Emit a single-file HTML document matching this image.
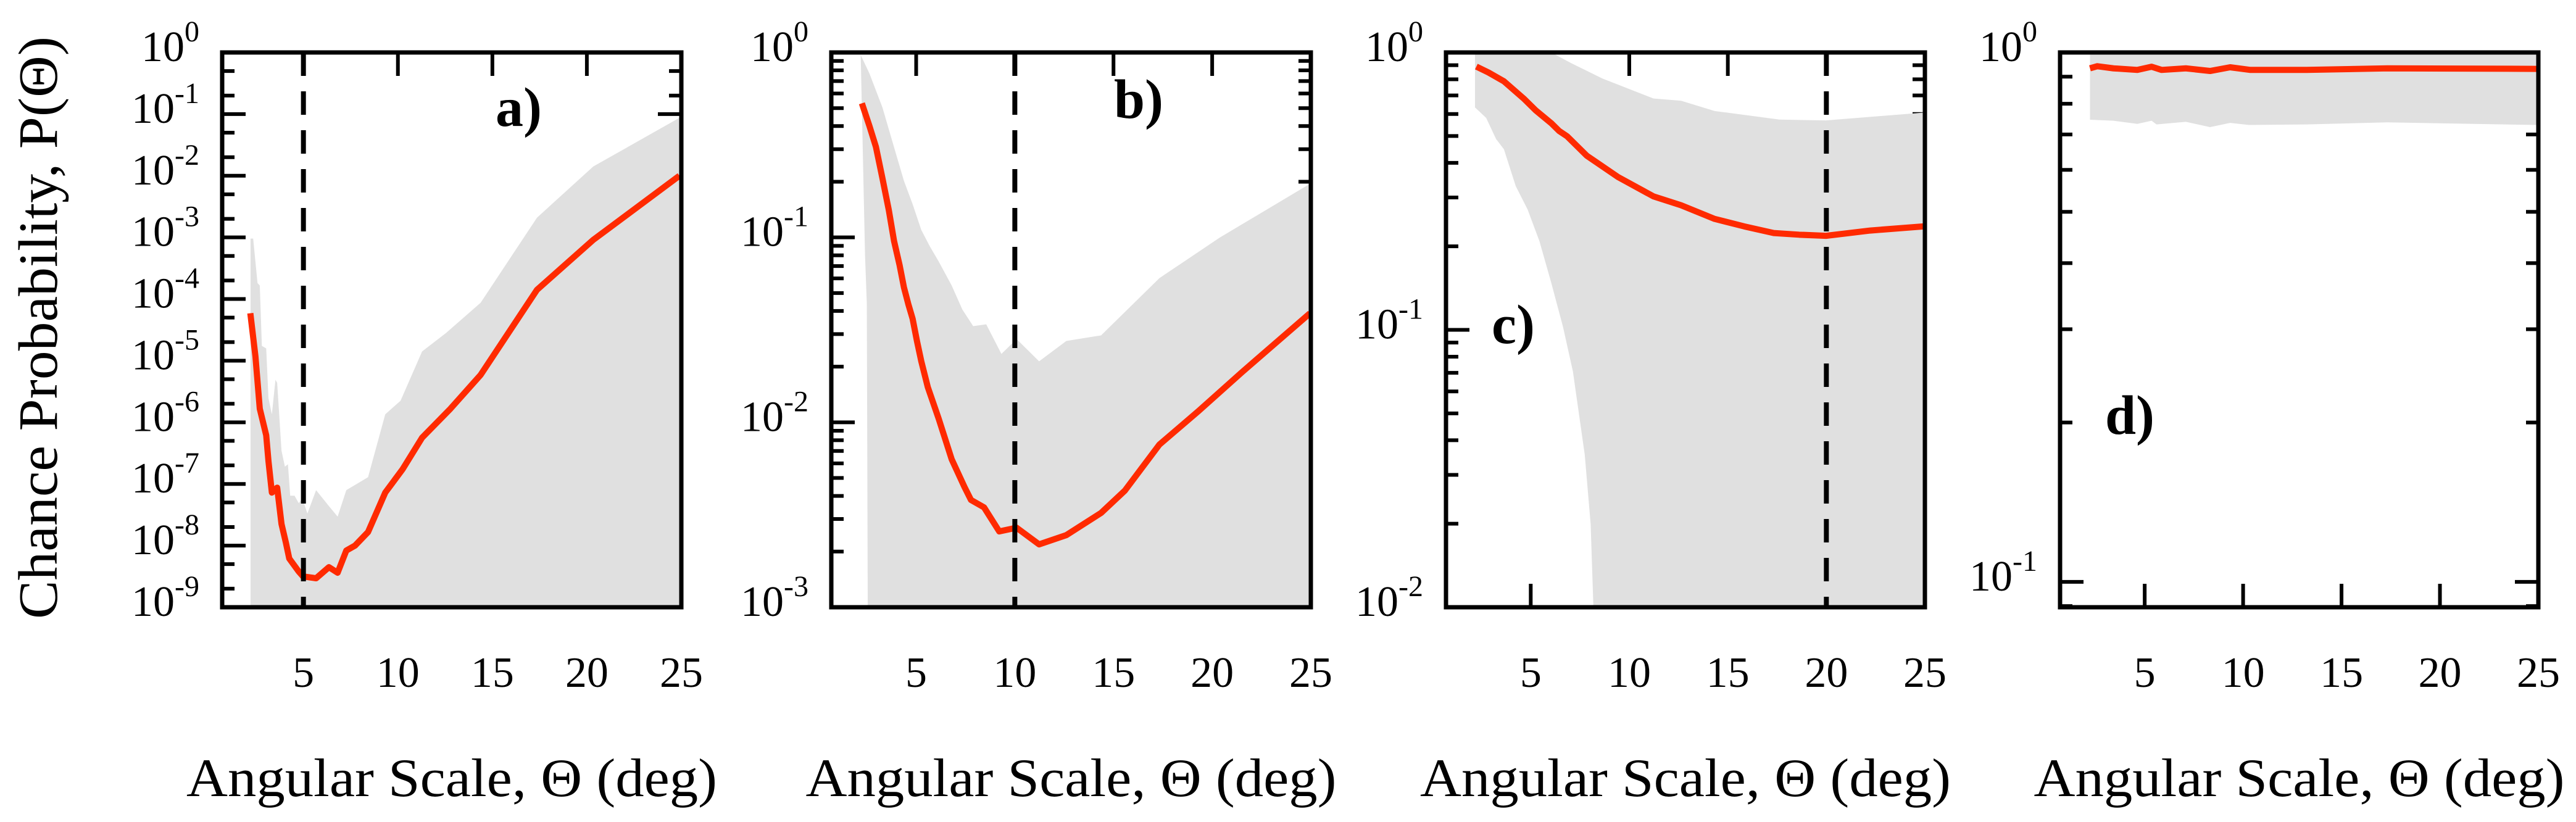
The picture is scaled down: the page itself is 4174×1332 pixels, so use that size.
<!DOCTYPE html>
<html><head><meta charset="utf-8"><style>
html,body{margin:0;padding:0;background:#fff;}
svg{display:block;font-family:"Liberation Serif","DejaVu Serif",serif;}
</style></head><body>
<svg id="fig" width="4174" height="1332" viewBox="0 0 4174 1332" xmlns="http://www.w3.org/2000/svg">
<rect width="4174" height="1332" fill="#fff"/>
<text x="0" y="0" transform="translate(92,531) rotate(-90)" text-anchor="middle" font-size="90" textLength="944" lengthAdjust="spacingAndGlyphs">Chance Probability, P(Θ)</text>
</svg>
<script>
// ---- data (theta in deg, log10 probability) ----
const xTickValues=[5,10,15,20,25];
const xTickLabels=["5","10","15","20","25"];

const aLineTheta=[2.19,2.46,2.69,3.03,3.15,3.33,3.61,3.84,4.07,4.25,4.75,4.98,5.67,6.35,6.81,7.27,7.73,8.42,9.33,10.25,11.28,12.78,14.38,17.36,20.34,24.9];
const aLineLogP=[-4.23,-4.93,-5.78,-6.21,-6.63,-7.14,-7.06,-7.65,-7.95,-8.21,-8.42,-8.5,-8.53,-8.35,-8.44,-8.08,-8.0,-7.78,-7.14,-6.76,-6.25,-5.78,-5.23,-3.85,-3.04,-2.0];
const aUpperTheta=[2.2,2.34,2.57,2.69,2.8,3.03,3.15,3.33,3.52,3.61,3.84,4.02,4.18,4.3,4.53,4.75,4.94,5.21,5.67,6.35,6.81,7.27,8.42,9.33,10.14,11.28,12.55,14.38,17.36,20.34,24.9];
const aUpperLogP=[-3.02,-3.02,-3.74,-3.78,-4.76,-4.8,-5.61,-5.87,-5.31,-5.36,-6.46,-6.72,-6.68,-7.19,-7.19,-7.31,-7.23,-7.48,-7.1,-7.36,-7.53,-7.1,-6.89,-5.87,-5.65,-4.85,-4.55,-4.06,-2.68,-1.85,-1.06];
const aLowerTheta=[2.2,24.9];
const aLowerLogP=[-9.6,-9.6];

const bLineTheta=[2.25,2.63,2.96,3.29,3.61,3.88,4.16,4.38,4.6,4.82,5.04,5.26,5.59,6.14,6.8,7.45,7.78,8.44,9.21,10.09,11.23,12.61,14.37,15.57,17.33,19.3,21.5,24.96];
const bLineLogP=[-0.275,-0.397,-0.51,-0.68,-0.85,-1.02,-1.15,-1.27,-1.36,-1.44,-1.56,-1.67,-1.81,-1.98,-2.2,-2.35,-2.42,-2.46,-2.59,-2.57,-2.66,-2.61,-2.49,-2.37,-2.12,-1.94,-1.73,-1.41];
const bUpperTheta=[2.19,2.63,3.29,3.95,4.38,4.82,5.26,5.7,6.14,6.8,7.34,7.89,8.55,9.32,10.09,11.23,12.61,14.37,17.33,20.4,24.96];
const bUpperLogP=[-0.014,-0.113,-0.297,-0.538,-0.694,-0.82,-0.96,-1.05,-1.13,-1.26,-1.39,-1.48,-1.47,-1.63,-1.55,-1.67,-1.56,-1.53,-1.22,-1.0,-0.71];
const bLowerTheta=[2.19,2.41,2.5,2.56,24.96];
const bLowerLogP=[-0.014,-1.1,-1.36,-3.5,-3.5];

const cLineTheta=[2.24,2.85,3.64,4.64,5.24,6.04,6.44,6.84,7.84,9.43,11.23,12.63,14.33,15.83,17.33,18.62,19.98,22.22,24.92];
const cLineLogP=[-0.051,-0.072,-0.104,-0.166,-0.208,-0.255,-0.283,-0.302,-0.372,-0.449,-0.519,-0.551,-0.6,-0.627,-0.651,-0.657,-0.661,-0.642,-0.627];
const cUpperTheta=[2.17,6.04,7.04,8.64,11.23,12.63,14.33,17.62,19.98,24.92];
const cUpperLogP=[0.05,0.0,-0.038,-0.094,-0.166,-0.174,-0.211,-0.242,-0.245,-0.217];
const cLowerTheta=[2.17,2.74,3.24,3.64,4.24,4.84,5.44,6.04,6.64,7.14,7.74,8.04,8.18,8.3,24.92];
const cLowerLogP=[-0.198,-0.236,-0.312,-0.349,-0.482,-0.566,-0.68,-0.83,-0.99,-1.15,-1.45,-1.7,-2.0,-2.3,-2.3];

const dLineTheta=[2.22,2.59,3.41,4.63,5.35,5.86,7.09,8.32,9.34,10.37,13.23,17.33,24.9];
const dLineLogP=[-0.030,-0.026,-0.030,-0.033,-0.027,-0.033,-0.030,-0.035,-0.028,-0.033,-0.033,-0.030,-0.031];
const dUpperTheta=[2.22,24.9];
const dUpperLogP=[0.0,0.0];
const dLowerTheta=[2.22,3.41,4.63,5.35,5.6,7.09,8.32,9.34,10.3,13.23,17.33,24.9];
const dLowerLogP=[-0.127,-0.129,-0.135,-0.129,-0.136,-0.131,-0.141,-0.133,-0.137,-0.136,-0.132,-0.137];

const svg=document.getElementById('fig');
const NS='http://www.w3.org/2000/svg';
function mk(tag,attrs,parent){const e=document.createElementNS(NS,tag);for(const k in attrs)e.setAttribute(k,attrs[k]);(parent||svg).appendChild(e);return e;}

const panels=[
 {id:'a',L:360,R:1104,T:85,B:984,ymin:-9,ymax:0,majors:[0,-1,-2,-3,-4,-5,-6,-7,-8,-9],minors:[2,5],dash:5,topTicks:[10,15,20,25],botTicks:[],lab:'a)',lx:803,ly:204,
  line:[aLineTheta,aLineLogP],up:[aUpperTheta,aUpperLogP],lo:[aLowerTheta,aLowerLogP]},
 {id:'b',L:1347,R:2124,T:85,B:984,ymin:-3,ymax:0,majors:[0,-1,-2,-3],minors:[2,3,4,5,6,7,8,9],dash:10,topTicks:[5,10,15,20,25],botTicks:[],lab:'b)',lx:1805,ly:191,
  line:[bLineTheta,bLineLogP],up:[bUpperTheta,bUpperLogP],lo:[bLowerTheta,bLowerLogP]},
 {id:'c',L:2343,R:3119,T:85,B:984,ymin:-2,ymax:0,majors:[0,-1,-2],minors:[2,3,4,5,6,7,8,9],dash:20,topTicks:[10,15,25],botTicks:[5],lab:'c)',lx:2417,ly:556,
  line:[cLineTheta,cLineLogP],up:[cUpperTheta,cUpperLogP],lo:[cLowerTheta,cLowerLogP]},
 {id:'d',L:3338,R:4113,T:85,B:984,ymin:-1.048,ymax:0,majors:[0,-1],minors:[2,3,4,5,6,7,8,9],dash:null,topTicks:[],botTicks:[5,10,15,20],lab:'d)',lx:3411,ly:703,
  line:[dLineTheta,dLineLogP],up:[dUpperTheta,dUpperLogP],lo:[dLowerTheta,dLowerLogP]}
];
const XMIN=0.7,XMAX=25;

panels.forEach(p=>{
 const xs=v=>p.L+(v-XMIN)/(XMAX-XMIN)*(p.R-p.L);
 const ys=lv=>p.T+(p.ymax-lv)/(p.ymax-p.ymin)*(p.B-p.T);
 const g=mk('g',{});
 
 
 const cp=mk('clipPath',{id:'clip-'+p.id},g);
 mk('rect',{x:p.L,y:p.T,width:p.R-p.L,height:p.B-p.T},cp);
 const tk=mk('g',{stroke:'#000','stroke-width':6},g);
 
 
 p.majors.forEach(m=>{
   const y=ys(m);
   mk('line',{x1:p.L,x2:p.L+38,y1:y,y2:y},tk);
   mk('line',{x1:p.R,x2:p.R-38,y1:y,y2:y},tk);
   p.minors.forEach(k=>{
     const lv=m-1+Math.log10(k);
     if(lv<p.ymin-1e-6||lv>p.ymax)return;
     const yy=ys(lv);
     mk('line',{x1:p.L,x2:p.L+20,y1:yy,y2:yy},tk);
     mk('line',{x1:p.R,x2:p.R-20,y1:yy,y2:yy},tk);
   });
 });
 p.topTicks.forEach(v=>{mk('line',{x1:xs(v),x2:xs(v),y1:p.T,y2:p.T+38},tk);});
 p.botTicks.forEach(v=>{mk('line',{x1:xs(v),x2:xs(v),y1:p.B,y2:p.B-38},tk);});
 let pts=[];
 p.up[0].forEach((t,i)=>pts.push(xs(t)+','+ys(p.up[1][i])));
 for(let i=p.lo[0].length-1;i>=0;i--)pts.push(xs(p.lo[0][i])+','+ys(p.lo[1][i]));
 const band=mk('polygon',{points:pts.join(' '),fill:'#e0e0e0','clip-path':'url(#clip-'+p.id+')'},g);
 
 
 const lp=p.line[0].map((t,i)=>xs(t)+','+ys(p.line[1][i])).join(' ');
 const ln=mk('polyline',{points:lp,fill:'none',stroke:'#ff2a00','stroke-width':10,'stroke-linejoin':'round','clip-path':'url(#clip-'+p.id+')'},g);
 
 
 if(p.dash!==null){
   const dl=mk('line',{x1:xs(p.dash),x2:xs(p.dash),y1:p.T,y2:p.B,stroke:'#000','stroke-width':8,'stroke-dasharray':'38 25'},g);
   
   
 }
 const fr=mk('rect',{x:p.L,y:p.T,width:p.R-p.L,height:p.B-p.T,fill:'none',stroke:'#000','stroke-width':7},g);
 
 
 p.majors.forEach(m=>{
   const y=ys(m);
   const t=mk('text',{x:p.L-37,y:y+14,'text-anchor':'end','font-size':70},g);
   
   
   const b=mk('tspan',{},t); b.textContent='10';
   const s=mk('tspan',{dy:-32,'font-size':48},t); s.textContent=String(m);
 });
 xTickValues.forEach((v,i)=>{
   const t=mk('text',{x:xs(v),y:1113,'text-anchor':'middle','font-size':70},g);
   
   
   t.textContent=xTickLabels[i];
 });
 const xt=mk('text',{x:(p.L+p.R)/2,y:1290,'text-anchor':'middle','font-size':88,textLength:860,lengthAdjust:'spacingAndGlyphs'},g);
 
 
 xt.textContent='Angular Scale, Θ (deg)';
 const pl=mk('text',{x:p.lx,y:p.ly,'font-size':90,'font-weight':'bold'},g);
 
 
 pl.textContent=p.lab;
});
</script>
</body></html>
